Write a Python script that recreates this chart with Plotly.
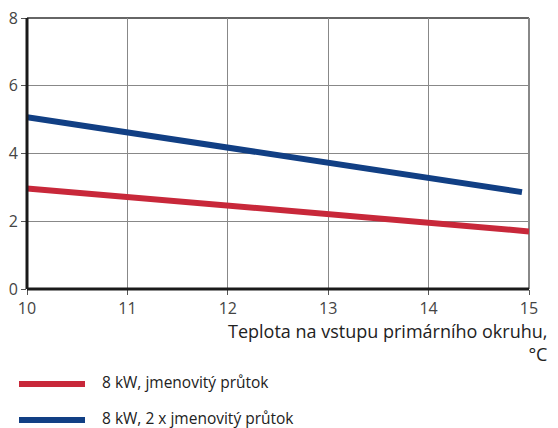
import plotly.graph_objects as go

x_red = [10, 11, 12, 13, 14, 15]
y_red = [2.97, 2.72, 2.47, 2.22, 1.97, 1.70]
x_blue = [10, 11, 12, 13, 14, 14.93]
y_blue = [5.07, 4.63, 4.19, 3.75, 3.30, 2.86]
names = ["8 kW, jmenovitý průtok", "8 kW, 2 x jmenovitý průtok"]
x_ticks = [10, 11, 12, 13, 14, 15]
y_ticks = [0, 2, 4, 6, 8]

RED = "#C8283A"
BLUE = "#113F84"
FONT = "Open Sans"

# page body has an 8px margin; figure drawn in a 550x420 box
OFF = 8
W, H = 558 - OFF, 428 - OFF
ml, mr, mt, mb = 27 - OFF, 29, 18 - OFF, 139

fig = go.Figure()
fig.add_trace(go.Scatter(x=x_red, y=y_red, mode="lines", name=names[0],
                         line=dict(color=RED, width=6), showlegend=False))
fig.add_trace(go.Scatter(x=x_blue, y=y_blue, mode="lines", name=names[1],
                         line=dict(color=BLUE, width=6), showlegend=False))

axis_common = dict(showgrid=True, gridcolor="#888888", gridwidth=1, zeroline=False,
                   showline=False, ticks="outside", ticklen=5, tickcolor="#555555",
                   tickfont=dict(size=16, color="#444444"), fixedrange=True,
                   automargin=False, ticklabeloverflow="allow")

fig.update_layout(
    width=W, height=H,
    margin=dict(l=ml, r=mr, t=mt, b=mb, autoexpand=False),
    plot_bgcolor="white", paper_bgcolor="white",
    font=dict(family=FONT, size=15, color="#333333"),
    xaxis=dict(range=[10, 15], tickvals=x_ticks, **axis_common),
    yaxis=dict(range=[0, 8], tickvals=y_ticks, **axis_common),
)

# frame: top and right gray, left and bottom dark
fig.add_shape(type="line", xref="paper", yref="paper", x0=0, x1=1, y0=1, y1=1,
              line=dict(color="#666666", width=2), layer="below")
fig.add_shape(type="line", xref="paper", yref="paper", x0=1, x1=1, y0=0, y1=1,
              line=dict(color="#888888", width=2), layer="below")
fig.add_shape(type="line", xref="paper", yref="paper", x0=0, x1=0, y0=0, y1=1,
              line=dict(color="#1a1a1a", width=3))
fig.add_shape(type="line", xref="paper", yref="paper", x0=0, x1=1, y0=0, y1=0,
              line=dict(color="#1a1a1a", width=3))

pw = W - ml - mr
ph = H - mt - mb

def px_x(px):
    return (px - OFF - ml) / pw

def px_y(py):
    return (H - mb - (py - OFF)) / ph

fig.add_annotation(xref="paper", yref="paper", x=px_x(549), y=px_y(317),
                   xanchor="right", yanchor="top", align="right", showarrow=False,
                   text="Teplota na vstupu primárního okruhu,<br>°C",
                   font=dict(size=18, color="#222222"))

for i, (c, yy) in enumerate([(RED, 384), (BLUE, 420)]):
    fig.add_shape(type="line", xref="paper", yref="paper",
                  x0=px_x(19), x1=px_x(85), y0=px_y(yy), y1=px_y(yy),
                  line=dict(color=c, width=6))
    fig.add_annotation(xref="paper", yref="paper", x=px_x(100), y=px_y(yy - 2),
                       xanchor="left", yanchor="middle", showarrow=False,
                       text=names[i], font=dict(size=15.5, color="#222222"))

fig.write_html("out.html")
